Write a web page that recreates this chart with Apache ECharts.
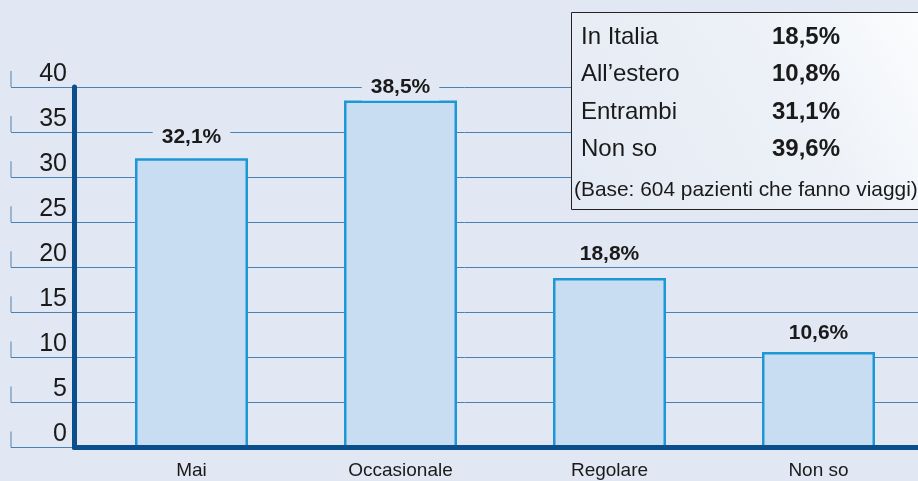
<!DOCTYPE html>
<html>
<head>
<meta charset="utf-8">
<script src="https://cdn.jsdelivr.net/npm/echarts@6/dist/echarts.min.js"></script>
<style>
html,body{margin:0;padding:0;background:#e1e8f3;}
#c{width:918px;height:481px;}
</style>
</head>
<body>
<div id="c"></div>
<script>
const categories = ['Mai', 'Occasionale', 'Regolare', 'Non so'];
const values = [32.1, 38.5, 18.8, 10.6];
const yTicks = [0, 5, 10, 15, 20, 25, 30, 35, 40];
const legendLabels = ['In Italia', 'All\u2019estero', 'Entrambi', 'Non so'];
const legendValues = ['18,5%', '10,8%', '31,1%', '39,6%'];
const footnote = '(Base: 604 pazienti che fanno viaggi)';

// label gap above each bar (style only)
const labelGap = [8, 0, 11, 6];

const FONT = '"Liberation Sans", Arial, Helvetica, sans-serif';
const BG = '#e1e8f3';
const DARK = '#0a4f8c';
const GRIDC = '#4a80b2';
const TXT = '#1a1a1a';

const chart = echarts.init(document.getElementById('c'), null, {renderer: 'canvas'});

const legendChildren = [];
legendChildren.push({
  type: 'rect', z: 20,
  shape: {x: 571.5, y: 12.5, width: 360, height: 197},
  style: {
    fill: new echarts.graphic.LinearGradient(0, 1, 1, 0, [
      {offset: 0, color: '#e4eaf4'},
      {offset: 0.6, color: '#edf1f7'},
      {offset: 1, color: '#fcfdfe'}
    ]),
    stroke: '#222', lineWidth: 1
  }
});
legendLabels.forEach((t, i) => {
  legendChildren.push({
    type: 'text', z: 21, x: 581, y: 37.5 + i * 37.3,
    style: {text: t, font: '24px ' + FONT, fill: TXT, textVerticalAlign: 'middle'}
  });
  legendChildren.push({
    type: 'text', z: 21, x: 772, y: 37.5 + i * 37.3,
    style: {text: legendValues[i], font: 'bold 24px ' + FONT, fill: TXT, textVerticalAlign: 'middle'}
  });
});
legendChildren.push({
  type: 'text', z: 21, x: 574, y: 190,
  style: {text: footnote, font: '20.9px ' + FONT, fill: TXT, textVerticalAlign: 'middle'}
});

const option = {
  backgroundColor: BG,
  animation: false,
  textStyle: {fontFamily: FONT},
  grid: [
    {left: 11, right: 0, top: 87, bottom: 33.5},
    {left: 74.5, right: 0, top: 87, bottom: 33.5},
    {left: 191.5, right: 99.5, top: 87, bottom: 33.5}
  ],
  xAxis: [
    {gridIndex: 0, type: 'value', min: 0, max: 1, show: false},
    {gridIndex: 1, type: 'value', min: 0, max: 1, z: 6,
      axisLine: {show: true, lineStyle: {color: DARK, width: 5}},
      axisTick: {show: false}, axisLabel: {show: false}, splitLine: {show: false}},
    {gridIndex: 2, type: 'category', data: categories, boundaryGap: false,
      axisLine: {show: false}, axisTick: {show: false},
      axisLabel: {color: TXT, fontSize: 19, margin: 14, fontFamily: FONT}}
  ],
  yAxis: [
    {gridIndex: 0, type: 'value', min: 0, max: 40, interval: 5,
      axisLine: {show: false}, axisTick: {show: false},
      splitLine: {show: true, lineStyle: {color: GRIDC, width: 1}},
      axisLabel: {inside: true, align: 'right', margin: 56, verticalAlign: 'bottom',
        fontSize: 25, color: TXT, fontFamily: FONT, lineHeight: 26}},
    {gridIndex: 1, type: 'value', min: 0, max: 40, z: 6,
      axisLine: {show: true, lineStyle: {color: DARK, width: 5}},
      axisTick: {show: false}, axisLabel: {show: false}, splitLine: {show: false}},
    {gridIndex: 2, type: 'value', min: 0, max: 40, show: false}
  ],
  series: [
    {
      type: 'scatter', xAxisIndex: 0, yAxisIndex: 0, silent: true, clip: false,
      data: yTicks.map(v => [0, v]),
      symbol: 'rect', symbolSize: [1, 16], symbolOffset: [0, -8],
      itemStyle: {color: '#2e6aa0'}, z: 3
    },
    {
      type: 'bar', xAxisIndex: 2, yAxisIndex: 2, clip: false,
      data: values.map((v, i) => ({value: v, label: {distance: labelGap[i]}})),
      barWidth: 113,
      itemStyle: {color: '#c8ddf1', borderColor: '#1b98d5', borderWidth: 2.5},
      label: {
        show: true, position: 'top',
        formatter: p => p.value.toFixed(1).replace('.', ',') + '%',
        fontSize: 21, fontWeight: 'bold', color: TXT, fontFamily: FONT,
        backgroundColor: BG, padding: [3, 9], lineHeight: 20
      },
      z: 2
    }
  ],
  graphic: [{type: 'group', z: 20, children: legendChildren}]
};
chart.setOption(option);
</script>
</body>
</html>
